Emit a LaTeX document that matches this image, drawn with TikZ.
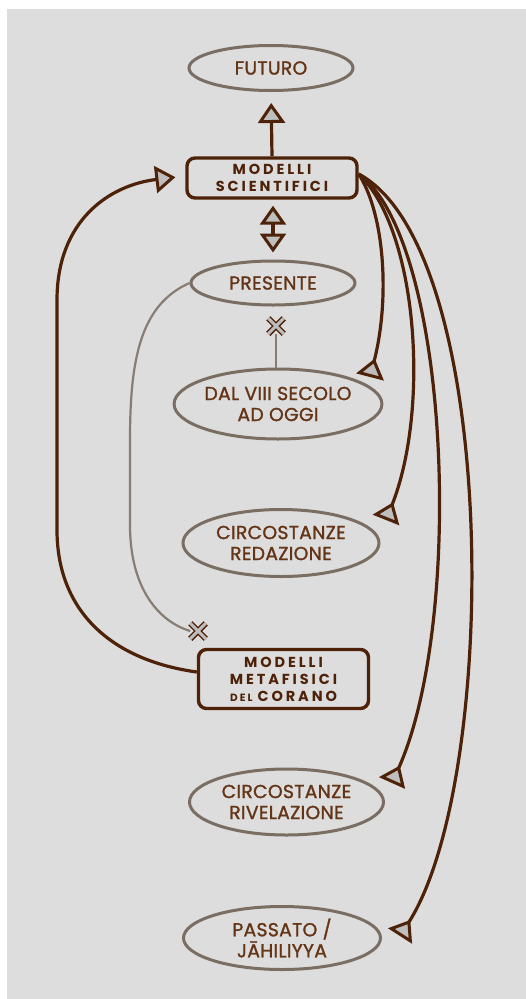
\documentclass[tikz,border=0pt]{standalone}
\usepackage{fontspec}
\setmainfont{Poppins}
\newfontfamily\med[FakeBold=1.3,LetterSpace=1.5]{Poppins}
\newfontfamily\spc[LetterSpace=20]{Poppins}
\usetikzlibrary{arrows.meta,shapes.geometric,shapes.misc}
\definecolor{bgc}{RGB}{221,221,221}
\definecolor{ellc}{RGB}{122,110,98}
\definecolor{darkc}{RGB}{78,34,8}
\definecolor{txtc}{RGB}{100,52,22}
\definecolor{trif}{RGB}{190,190,190}
\definecolor{glc}{RGB}{135,125,115}
\begin{document}
\begin{tikzpicture}[x=1pt,y=-1pt,
  ell/.style={ellipse, draw=ellc, line width=3pt, inner sep=0pt, text=txtc,
    font=\med\fontsize{18.8}{21}\selectfont, align=center},
  box/.style={rectangle, rounded corners=8pt, draw=darkc, line width=3.4pt, inner sep=0pt,
    text=darkc, font=\spc\bfseries\fontsize{14.5}{17}\selectfont, align=center},
  conn/.style={draw=darkc, line width=3.2pt},
  gline/.style={draw=glc, line width=2.2pt},
  tipf/.style={-{Triangle[length=20pt,width=27pt,fill=trif,line width=3pt]}},
  tipb/.style={{Triangle[length=19pt,width=26pt,fill=trif,line width=3pt]}-{Triangle[length=19pt,width=26pt,fill=trif,line width=3pt]}},
  tipr/.style={-{Triangle[reversed,length=19pt,width=28pt,fill=trif,line width=3pt]}},
  xmk/.style={cross out, draw=darkc, double=trif, double distance=3pt, line width=1.5pt,
    minimum size=14pt, inner sep=0pt}
]
\useasboundingbox (0,0) rectangle (526,999);
\fill[bgc] (7,9) rectangle (526,999);

% nodes
\node[ell, minimum width=164pt, minimum height=45pt] (fut) at (271,68) {FUTURO};
\node[box, minimum width=170pt, minimum height=40pt] (ms) at (272,178) {MODELLI\\SCIENTIFICI};
\node[ell, minimum width=164pt, minimum height=44pt] (pre) at (273,283) {PRESENTE};
\node[ell, minimum width=200pt, minimum height=70pt] (dal) at (278,404) {DAL VIII SECOLO\\AD OGGI};
\node[ell, minimum width=196pt, minimum height=67pt] (red) at (281,543) {CIRCOSTANZE\\REDAZIONE};
\node[box, minimum width=170pt, minimum height=59pt] (mmc) at (283.5,679) {MODELLI\\METAFISICI\\{\fontsize{10.5}{17}\selectfont DEL}\hspace{5pt}CORANO};
\node[ell, minimum width=194pt, minimum height=66pt] (riv) at (286.5,802) {CIRCOSTANZE\\RIVELAZIONE};
\node[ell, minimum width=197pt, minimum height=63pt] (pas) at (282,938) {PASSATO /\\JĀHILIYYA};

\node[xmk] (x1) at (276,326) {};
\node[xmk] (x2) at (198,631) {};

\coordinate (s) at ([yshift=4pt]ms.east);
\coordinate (e1) at (370,377);
\coordinate (e2) at (386,520);
\coordinate (e3) at (392,783);
\coordinate (e4) at (400,936);

% connectors
\draw[conn, tipf, shorten >=11pt] (ms.north) -- (fut.south);
\draw[conn, tipb, shorten <=6pt, shorten >=7pt] (pre.north |- ms.south) -- (pre.north);
\draw[gline] (x1.south) -- (x1 |- dal.north);
\draw[gline] (pre.west) .. controls (140,305) and (130,360) .. (130,440) -- (130,525)
  .. controls (130,590) and (160,622) .. (x2.west);
\draw[conn, tipf, shorten >=10pt] ([yshift=7pt]mmc.west) .. controls (110,660) and (57,610) .. (57,530)
  -- (57,300) .. controls (57,220) and (110,185) .. ([yshift=2pt]ms.west);

\draw[conn, tipr] (s) .. controls (385,215) and (390,300) .. (e1);
\draw[conn, tipr] (s) .. controls (418,230) and (430,410) .. (e2);
\draw[conn, tipr] (s) .. controls (450,240) and (465,620) .. (e3);
\draw[conn, tipr] (s) .. controls (500,250) and (500,780) .. (e4);
\end{tikzpicture}
\end{document}
